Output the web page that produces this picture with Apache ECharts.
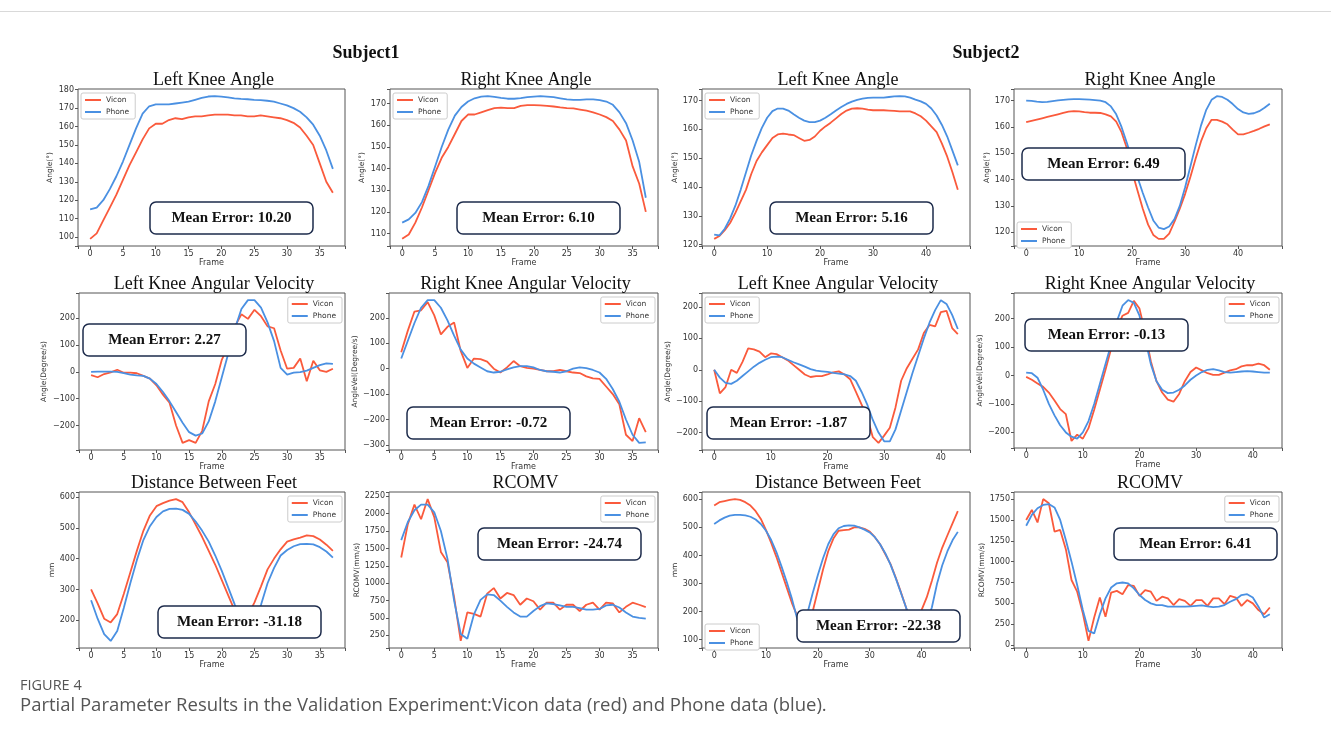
<!DOCTYPE html>
<html>
<head>
<meta charset="utf-8">
<script src="https://cdn.jsdelivr.net/npm/echarts@6/dist/echarts.min.js"></script>
<style>
  html, body { margin: 0; padding: 0; background: #fff; }
  #chart { width: 1331px; height: 751px; }
</style>
</head>
<body>
<div id="chart"></div>
<script>
// Subject1
const s1LeftAngleVicon = [99, 102, 109, 116, 123, 131, 139, 146, 153, 159, 161.5, 161.5, 163.5, 164.5, 164, 165, 165.5, 165.5, 166, 166.5, 166.5, 166.5, 166, 166, 165.5, 165.5, 166, 165.5, 165, 164.5, 163.5, 162, 159.5, 155, 150, 140, 130, 124]
const s1LeftAnglePhone = [115, 116, 120, 126, 133, 141, 150, 159, 167, 171, 172, 172, 172, 172.5, 173, 173.5, 174.5, 175.5, 176.3, 176.5, 176.2, 175.8, 175.3, 175, 174.8, 174.5, 174.3, 174, 173.5, 172.5, 171.5, 170, 168, 165, 161, 155, 147, 137]
const s1RightAngleVicon = [107.5, 109.5, 115, 122, 130, 138, 145, 150, 156, 162, 165, 165, 166, 167, 168, 168.2, 168, 168, 169, 169.3, 169.3, 169.2, 169, 168.7, 168.3, 168, 167.8, 167.3, 166.8, 166, 165, 163.8, 162, 158, 153, 141, 133, 120]
const s1RightAnglePhone = [115, 116.5, 119.5, 124.5, 132, 141, 150, 158, 164.5, 168.5, 171, 172.5, 173.3, 173.5, 173.2, 172.7, 172.3, 172.3, 172.6, 173, 173.3, 173.5, 173.3, 173, 172.5, 172, 171.8, 171.8, 172, 172, 171.7, 171, 169.5, 166, 161, 153, 143, 126.5]
const s1LeftVelVicon = [-12, -20, -8, -2, 8, -3, -3, -5, -15, -25, -50, -85, -115, -200, -265, -255, -265, -220, -110, -45, 45, 100, 170, 215, 198, 232, 208, 170, 163, 80, 12, 15, 50, -35, 42, 6, 0, 12]
const s1LeftVelPhone = [0, 1, 1, 1, 0, -5, -10, -13, -15, -25, -45, -75, -110, -150, -190, -225, -238, -230, -185, -110, -20, 70, 160, 235, 268, 268, 240, 185, 115, 15, -10, -3, -1, 5, 15, 25, 32, 30]
const s1RightVelVicon = [65, 150, 225, 230, 262, 210, 135, 165, 182, 70, 3, 40, 38, 28, 0, -15, 5, 30, 10, 3, 0, -5, -10, -10, -5, -10, -15, -17, -30, -38, -40, -70, -100, -140, -260, -285, -195, -250]
const s1RightVelPhone = [40, 110, 180, 240, 270, 270, 240, 190, 130, 75, 40, 20, 5, -10, -15, -12, -3, 5, 10, 10, 5, -5, -10, -12, -15, -10, 0, 5, 2, -5, -15, -40, -80, -130, -200, -260, -292, -290]
const s1DistVicon = [300, 255, 205, 193, 220, 285, 355, 425, 490, 540, 570, 580, 588, 593, 583, 550, 510, 470, 425, 380, 330, 280, 230, 205, 215, 258, 310, 365, 400, 430, 455, 462, 468, 475, 473, 462, 445, 425]
const s1DistPhone = [265, 205, 155, 133, 165, 240, 320, 395, 460, 505, 535, 553, 561, 562, 558, 545, 520, 490, 455, 410, 360, 305, 250, 200, 180, 195, 250, 320, 370, 410, 428, 440, 447, 448, 446, 437, 423, 403]
const s1RcomvVicon = [1370, 1850, 2130, 1920, 2210, 1950, 1450, 1300, 800, 170, 580, 560, 520, 850, 930, 780, 860, 830, 690, 780, 740, 620, 720, 720, 620, 690, 690, 600, 690, 720, 620, 720, 710, 580, 660, 720, 690, 655]
const s1RcomvPhone = [1620, 1880, 2050, 2130, 2130, 2020, 1750, 1350, 750, 270, 200, 550, 760, 840, 830, 750, 660, 580, 520, 520, 600, 670, 710, 700, 680, 660, 660, 640, 620, 620, 630, 680, 690, 650, 580, 520, 500, 490]

// Subject2
const s2LeftAngleVicon = [122, 123, 125, 127.5, 131, 135, 139, 144.5, 149, 152, 154.5, 157, 158.2, 158.5, 158.2, 158, 157, 156, 156.3, 157.5, 159.5, 161, 162.3, 163.8, 165.3, 166.5, 167.2, 167.3, 167.2, 166.8, 166.6, 166.6, 166.6, 166.5, 166.4, 166.2, 166.2, 166.2, 165.5, 164.5, 163, 161, 159, 155, 150.5, 145, 139]
const s2LeftAnglePhone = [123.5, 123.2, 125.5, 129, 133.5, 139, 145, 151, 156, 160.5, 164, 166.3, 167.2, 167.2, 166.5, 165.2, 164, 163, 162.5, 162.5, 163, 164, 165.2, 166.5, 167.7, 168.8, 169.6, 170.2, 170.6, 170.9, 171, 171, 171, 171.2, 171.4, 171.5, 171.4, 171, 170.3, 169.7, 168.8, 167.2, 164.8, 161.5, 157.5, 152.5, 147.5]
const s2RightAngleVicon = [161.8, 162.3, 162.8, 163.3, 163.8, 164.3, 164.8, 165.3, 165.8, 166, 165.9, 165.6, 165.4, 165.4, 165.3, 164.8, 164, 162, 158, 152, 143, 136, 129, 123, 119, 117.5, 117.5, 119.5, 124, 129, 134.5, 141, 148, 154.5, 159.5, 162.7, 162.7, 162, 161, 159, 157.2, 157.2, 157.8, 158.5, 159.3, 160.2, 161]
const s2RightAnglePhone = [170, 169.9, 169.6, 169.4, 169.5, 169.8, 170.1, 170.3, 170.5, 170.6, 170.6, 170.5, 170.4, 170.2, 170, 169.4, 167.8, 164.8, 160, 154, 147.5, 141, 135, 129.5, 124.5, 121.8, 121.2, 122.2, 125, 130, 137, 145, 153, 160.5, 166.5, 170.3, 171.7, 171.4, 170.3, 168.7, 166.8, 165.5, 165, 165.2, 166, 167.3, 168.8]
const s2LeftVelVicon = [0, -75, -55, 0, -10, 25, 68, 65, 58, 40, 52, 50, 40, 30, 15, 0, -15, -23, -20, -20, -15, -8, -5, -15, -30, -70, -110, -150, -215, -233, -210, -185, -120, -35, 5, 35, 65, 117, 143, 138, 184, 188, 133, 114]
const s2LeftVelPhone = [0, -25, -42, -45, -35, -20, -5, 10, 22, 32, 40, 42, 40, 32, 24, 17, 10, 2, -3, -5, -7, -10, -12, -15, -20, -35, -70, -110, -160, -200, -228, -228, -190, -130, -70, -10, 45, 100, 150, 190, 222, 210, 175, 130]
const s2RightVelVicon = [-5, -15, -28, -40, -60, -88, -118, -136, -230, -208, -222, -185, -120, -50, 20, 95, 165, 210, 220, 262, 235, 150, 50, -20, -60, -85, -92, -65, -20, 12, 28, 18, 8, 2, 2, 10, 18, 22, 32, 36, 36, 42, 36, 20]
const s2RightVelPhone = [10, 8, -8, -50, -100, -140, -175, -200, -215, -222, -200, -160, -100, -30, 40, 110, 190, 245, 265, 255, 210, 130, 40, -20, -50, -62, -60, -50, -35, -15, 0, 12, 20, 22, 18, 12, 10, 12, 14, 15, 14, 12, 10, 10]
const s2DistVicon = [578, 590, 594, 598, 601, 598, 590, 578, 558, 530, 490, 445, 395, 340, 285, 230, 185, 125, 100, 200, 275, 350, 415, 460, 488, 490, 492, 500, 500, 495, 485, 465, 440, 405, 370, 322, 270, 215, 150, 105, 205, 250, 310, 375, 428, 472, 515, 558]
const s2DistPhone = [512, 525, 535, 542, 545, 545, 543, 538, 528, 512, 488, 455, 412, 360, 305, 245, 175, 110, 195, 265, 330, 390, 440, 475, 497, 505, 507, 506, 500, 492, 482, 465, 440, 408, 368, 320, 268, 215, 160, 110, 95, 160, 215, 300, 365, 415, 455, 484]
const s2RcomvVicon = [1500, 1620, 1470, 1750, 1700, 1360, 1380, 1150, 780, 640, 380, 50, 330, 570, 340, 630, 650, 610, 720, 710, 590, 660, 640, 530, 580, 560, 480, 550, 530, 470, 540, 540, 470, 560, 560, 490, 590, 570, 470, 540, 500, 420, 370, 450]
const s2RcomvPhone = [1430, 1560, 1640, 1680, 1690, 1650, 1500, 1260, 1000, 720, 420, 170, 140, 370, 560, 690, 740, 750, 740, 680, 600, 540, 500, 480, 480, 460, 460, 460, 460, 465, 470, 475, 465, 455, 460, 480, 520, 550, 600, 610, 570, 460, 330, 370]

const meanErrors = ['10.20', '6.10', '5.16', '6.49', '2.27', '-0.72', '-1.87', '-0.13', '-31.18', '-24.74', '-22.38', '6.41']

const VICON = '#fa5a3c'
const PHONE = '#4a90e2'

// grid: [left, top, width, height], box: [x, y] of the mean error label
const panels = [
  { grid: [78, 89, 267, 157], title: 'Left Knee Angle', yName: 'Angle(°)', yGap: 24, xStep: 5, yStep: 10, vicon: s1LeftAngleVicon, phone: s1LeftAnglePhone, legend: 'ul', box: [150, 202] },
  { grid: [390, 89, 268, 157], title: 'Right Knee Angle', yName: 'Angle(°)', yGap: 24, xStep: 5, yStep: 10, vicon: s1RightAngleVicon, phone: s1RightAnglePhone, legend: 'ul', box: [457, 202] },
  { grid: [702, 89, 268, 157], title: 'Left Knee Angle', yName: 'Angle(°)', yGap: 23, xStep: 10, yStep: 10, vicon: s2LeftAngleVicon, phone: s2LeftAnglePhone, legend: 'ul', box: [770, 202] },
  { grid: [1014, 89, 268, 157], title: 'Right Knee Angle', yName: 'Angle(°)', yGap: 23, xStep: 10, yStep: 10, vicon: s2RightAngleVicon, phone: s2RightAnglePhone, legend: 'll', box: [1022, 148] },
  { grid: [79, 293, 266, 157], title: 'Left Knee Angular Velocity', yName: 'Angle(Degree/s)', yGap: 31, xStep: 5, yStep: 100, vicon: s1LeftVelVicon, phone: s1LeftVelPhone, legend: 'ur', box: [83, 324] },
  { grid: [389, 293, 269, 157], title: 'Right Knee Angular Velocity', yName: 'AngleVel(Degree/s)', yGap: 28, xStep: 5, yStep: 100, vicon: s1RightVelVicon, phone: s1RightVelPhone, legend: 'ur', box: [407, 407] },
  { grid: [702, 293, 268, 157], title: 'Left Knee Angular Velocity', yName: 'Angle(Degree/s)', yGap: 29, xStep: 10, yStep: 100, vicon: s2LeftVelVicon, phone: s2LeftVelPhone, legend: 'ul', box: [707, 407] },
  { grid: [1014, 293, 268, 155], title: 'Right Knee Angular Velocity', yName: 'AngleVel(Degree/s)', yGap: 29, xStep: 10, yStep: 100, vicon: s2RightVelVicon, phone: s2RightVelPhone, legend: 'ur', box: [1025, 319] },
  { grid: [79, 492, 266, 156], title: 'Distance Between Feet', yName: 'mm', yGap: 23, xStep: 5, yStep: 100, vicon: s1DistVicon, phone: s1DistPhone, legend: 'ur', box: [158, 606] },
  { grid: [389, 492, 269, 156], title: 'RCOMV', yName: 'RCOMV(mm/s)', yGap: 28, xStep: 5, yStep: 250, vicon: s1RcomvVicon, phone: s1RcomvPhone, legend: 'ur', box: [478, 528] },
  { grid: [702, 492, 268, 156], title: 'Distance Between Feet', yName: 'mm', yGap: 23, xStep: 10, yStep: 100, vicon: s2DistVicon, phone: s2DistPhone, legend: 'll', box: [797, 610] },
  { grid: [1014, 492, 268, 156], title: 'RCOMV', yName: 'RCOMV(mm/s)', yGap: 28, xStep: 10, yStep: 250, vicon: s2RcomvVicon, phone: s2RcomvPhone, legend: 'ur', box: [1114, 528] }
]

const tickFont = { fontFamily: 'DejaVu Sans', fontSize: 8, color: '#333' }
const onStep = (v, step) => Math.abs(v / step - Math.round(v / step)) < 1e-6
const fmt = step => v => onStep(v, step) ? String(Math.round(v)).replace('-', '\u2212') : ''

const grids = [], xAxes = [], yAxes = [], series = [], legends = [], graphics = []

panels.forEach((p, i) => {
  const [gl, gt, gw, gh] = p.grid
  grids.push({ left: gl, top: gt, width: gw, height: gh, show: true, borderColor: '#555', borderWidth: 1, backgroundColor: '#fff' })

  const n = Math.max(p.vicon.length, p.phone.length) - 1
  xAxes.push({
    gridIndex: i, type: 'value', min: -0.05 * n, max: 1.05 * n,
    minInterval: p.xStep, maxInterval: p.xStep,
    name: 'Frame', nameLocation: 'middle', nameGap: 11,
    nameTextStyle: { fontFamily: 'DejaVu Sans', fontSize: 8, color: '#333' },
    axisLine: { show: false, onZero: false }, splitLine: { show: false },
    axisTick: { show: true, length: 3, lineStyle: { color: '#555' } },
    axisLabel: Object.assign({ margin: 4, formatter: fmt(p.xStep) }, tickFont)
  })

  const all = p.vicon.concat(p.phone)
  const lo = Math.min(...all), hi = Math.max(...all)
  const pad = (hi - lo) * 0.05
  yAxes.push({
    gridIndex: i, type: 'value', min: lo - pad, max: hi + pad,
    minInterval: p.yStep, maxInterval: p.yStep,
    name: p.yName, nameLocation: 'middle', nameGap: p.yGap, nameRotate: 90,
    nameTextStyle: { fontFamily: 'DejaVu Sans', fontSize: 7.5, color: '#333' },
    axisLine: { show: false, onZero: false }, splitLine: { show: false },
    axisTick: { show: true, length: 3, lineStyle: { color: '#555' } },
    axisLabel: Object.assign({ margin: 4, formatter: fmt(p.yStep) }, tickFont)
  })

  const mk = (name, arr, color) => ({
    name, type: 'line', xAxisIndex: i, yAxisIndex: i,
    data: arr.map((v, k) => [k, v]),
    symbol: 'none', silent: true, animation: false,
    lineStyle: { width: 1.8, color }, itemStyle: { color }
  })
  series.push(mk('Vicon', p.vicon, VICON), mk('Phone', p.phone, PHONE))

  const lg = {
    data: ['Vicon', 'Phone'], orient: 'vertical', selectedMode: false,
    icon: 'rect', itemWidth: 16, itemHeight: 2, itemGap: 4, padding: [3, 6, 3, 4],
    textStyle: { fontFamily: 'DejaVu Sans', fontSize: 7.5, color: '#333' },
    backgroundColor: '#fff', borderColor: '#ccc', borderWidth: 1, borderRadius: 2
  }
  if (p.legend === 'ul') { lg.left = gl + 3; lg.top = gt + 4 }
  if (p.legend === 'ur') { lg.right = 1331 - (gl + gw) + 3; lg.top = gt + 4 }
  if (p.legend === 'll') { lg.left = gl + 3; lg.top = gt + gh - 24 }
  legends.push(lg)

  graphics.push({
    type: 'text', x: gl + gw / 2 + 2, y: gt - 9, z: 50,
    style: { text: p.title, align: 'center', verticalAlign: 'middle', fontFamily: 'Liberation Serif', fontSize: 18, fill: '#111' }
  })
  graphics.push({
    type: 'group', x: p.box[0], y: p.box[1], z: 100,
    children: [
      { type: 'rect', z: 100, shape: { x: 0, y: 0, width: 163, height: 32, r: 6 }, style: { fill: '#fff', stroke: '#1d2b4b', lineWidth: 1.5 } },
      { type: 'text', z: 101, x: 81.5, y: 16, style: { text: 'Mean Error: ' + meanErrors[i], align: 'center', verticalAlign: 'middle', fontFamily: 'Liberation Serif', fontWeight: 'bold', fontSize: 15, fill: '#111' } }
    ]
  })
})

graphics.push(
  { type: 'rect', x: 0, y: 11, shape: { width: 1331, height: 1 }, style: { fill: '#d9d9d9' } },
  { type: 'text', x: 366, y: 53, style: { text: 'Subject1', align: 'center', verticalAlign: 'middle', fontFamily: 'Liberation Serif', fontWeight: 'bold', fontSize: 18, fill: '#111' } },
  { type: 'text', x: 986, y: 53, style: { text: 'Subject2', align: 'center', verticalAlign: 'middle', fontFamily: 'Liberation Serif', fontWeight: 'bold', fontSize: 18, fill: '#111' } },
  { type: 'text', x: 20, y: 686, style: { text: 'FIGURE 4', verticalAlign: 'middle', fontFamily: 'Open Sans', fontSize: 14.5, fill: '#555' } },
  { type: 'text', x: 20, y: 706, style: { text: 'Partial Parameter Results in the Validation Experiment:Vicon data (red) and Phone data (blue).', verticalAlign: 'middle', fontFamily: 'Open Sans', fontSize: 18.5, fill: '#555' } }
)

const chart = echarts.init(document.getElementById('chart'), null, { renderer: 'canvas' })
chart.setOption({
  animation: false,
  backgroundColor: '#fff',
  grid: grids,
  xAxis: xAxes,
  yAxis: yAxes,
  legend: legends,
  series,
  graphic: graphics
})
</script>
</body>
</html>
